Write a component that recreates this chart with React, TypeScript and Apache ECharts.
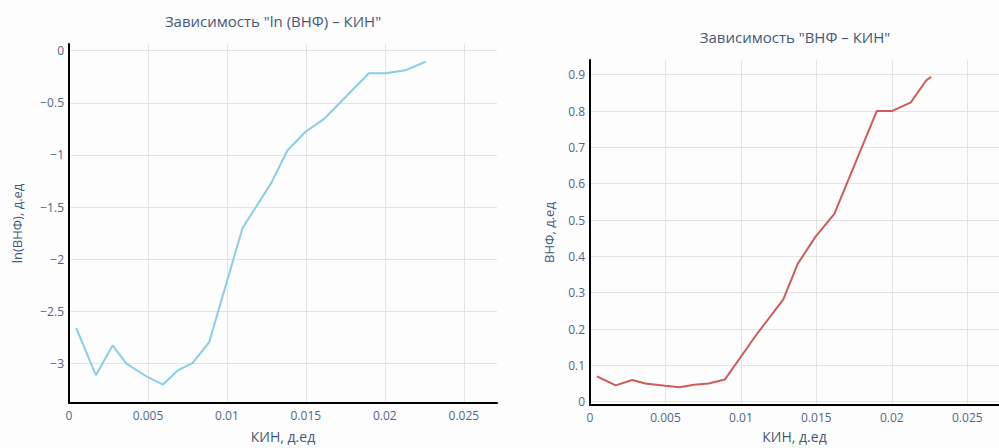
import React, { useEffect, useRef } from "react";
import * as echarts from "echarts";

// КИН values (shared x) and the two measured series
const kinLn = [0.00046, 0.0017, 0.00276, 0.00363, 0.005, 0.00595, 0.0069, 0.00782, 0.00887, 0.01099, 0.0128, 0.01382, 0.01496, 0.01615, 0.01898, 0.02006, 0.02129, 0.02227, 0.02258];
const lnVnf = [-2.66, -3.11, -2.825, -3.0, -3.13, -3.2, -3.063, -2.995, -2.797, -1.7, -1.27, -0.96, -0.78, -0.655, -0.217, -0.217, -0.189, -0.126, -0.107];

const kinVnf = [0.00046, 0.0017, 0.0028, 0.00366, 0.00497, 0.00593, 0.0069, 0.00786, 0.00893, 0.011, 0.0128, 0.01377, 0.01496, 0.01619, 0.019, 0.02, 0.02126, 0.02227, 0.0226];
const vnf = [0.07, 0.045, 0.06, 0.05, 0.044, 0.04, 0.047, 0.05, 0.061, 0.183, 0.281, 0.38, 0.455, 0.517, 0.8, 0.8, 0.824, 0.884, 0.894];

const titleLeft = 'Зависимость "ln (ВНФ) – КИН"';
const titleRight = 'Зависимость "ВНФ – КИН"';
const xName = "КИН, д.ед";
const yNameLeft = "ln(ВНФ), д.ед";
const yNameRight = "ВНФ, д.ед";

const FONT = '"Open Sans", "Noto Sans", sans-serif';
const TICK_COLOR = "#506784";
const TITLE_COLOR = "#44587a";
const GRID_COLOR = "#e4e4e4";

const fmt = (v: number) => String(+v.toPrecision(6)).replace("-", "\u2212");

function xAxisCfg(gridIndex: number, gap: number) {
  return {
    type: "value" as const,
    gridIndex,
    min: 0,
    max: 0.0271,
    name: xName,
    nameLocation: "middle" as const,
    nameGap: gap,
    nameTextStyle: { fontFamily: FONT, fontSize: 14, color: TITLE_COLOR },
    axisLine: { show: true, onZero: false, lineStyle: { color: "#000", width: 2 } },
    axisTick: { show: false },
    axisLabel: { fontFamily: FONT, fontSize: 12, color: TICK_COLOR, margin: 6, formatter: fmt, showMaxLabel: false },
    splitLine: { show: true, showMinLine: false, showMaxLine: false, lineStyle: { color: GRID_COLOR, width: 1 } },
  };
}

function yAxisCfg(gridIndex: number, min: number, max: number, split: number, name: string, gap: number) {
  return {
    type: "value" as const,
    gridIndex,
    min,
    max,
    splitNumber: split,
    name,
    nameLocation: "middle" as const,
    nameGap: gap,
    nameTextStyle: { fontFamily: FONT, fontSize: 13, color: TITLE_COLOR },
    axisLine: { show: true, onZero: false, lineStyle: { color: "#000", width: 2 } },
    axisTick: { show: false },
    axisLabel: { fontFamily: FONT, fontSize: 12, color: TICK_COLOR, margin: 5, formatter: fmt, showMinLabel: false, showMaxLabel: false },
    splitLine: { show: true, showMinLine: false, showMaxLine: false, lineStyle: { color: GRID_COLOR, width: 1 } },
  };
}

export default function App() {
  const ref = useRef<HTMLDivElement>(null);

  useEffect(() => {
    if (!ref.current) return;
    const chart = echarts.init(ref.current, undefined, { renderer: "svg" });
    chart.setOption({
      animation: false,
      backgroundColor: "#fdfdfd",
      graphic: [
        {
          type: "text",
          x: 273,
          y: 21,
          style: { text: titleLeft, fontFamily: FONT, fontSize: 15, fill: TITLE_COLOR, textAlign: "center", textVerticalAlign: "middle" },
        },
        {
          type: "text",
          x: 795,
          y: 37,
          style: { text: titleRight, fontFamily: FONT, fontSize: 15, fill: TITLE_COLOR, textAlign: "center", textVerticalAlign: "middle" },
        },
      ],
      grid: [
        { left: 69, top: 44, width: 428, height: 365 },
        { left: 590, top: 60, width: 420, height: 351 },
      ],
      xAxis: [xAxisCfg(0, 26), xAxisCfg(1, 24)],
      yAxis: [
        yAxisCfg(0, -3.377, 0.063, 5, yNameLeft, 46),
        yAxisCfg(1, -0.009, 0.9405, 10, yNameRight, 35),
      ],
      series: [
        {
          type: "line",
          xAxisIndex: 0,
          yAxisIndex: 0,
          data: kinLn.map((x, i) => [x, lnVnf[i]]),
          showSymbol: false,
          lineStyle: { color: "#87ceeb", width: 2 },
        },
        {
          type: "line",
          xAxisIndex: 1,
          yAxisIndex: 1,
          data: kinVnf.map((x, i) => [x, vnf[i]]),
          showSymbol: false,
          lineStyle: { color: "#cd5c5c", width: 2 },
        },
      ],
    });
    return () => chart.dispose();
  }, []);

  return (
    <div
      ref={ref}
      style={{ position: "fixed", left: 0, top: 0, width: 999, height: 448 }}
    />
  );
}
